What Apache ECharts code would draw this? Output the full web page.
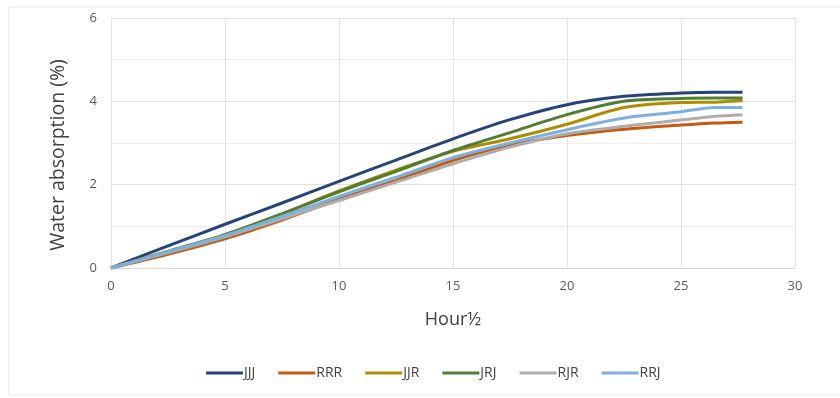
<!DOCTYPE html>
<html>
<head>
<meta charset="utf-8">
<script src="https://cdn.jsdelivr.net/npm/echarts@6/dist/echarts.min.js"></script>
<style>
  html, body { margin: 0; padding: 0; background: #fff; }
  #chart-container { width: 840px; height: 398px; }
</style>
</head>
<body>
<div id="chart-container"></div>
<script>
var hours = [0, 2.5, 5, 7.5, 10, 12.5, 15, 17.5, 20, 22.5, 25, 26.5, 27.7];
var seriesNames = ['JJJ', 'RRR', 'JJR', 'JRJ', 'RJR', 'RRJ'];
var JJJ = [0, 0.53, 1.05, 1.56, 2.08, 2.59, 3.1, 3.56, 3.92, 4.12, 4.2, 4.22, 4.22];
var RRR = [0, 0.33, 0.7, 1.15, 1.65, 2.1, 2.58, 2.95, 3.18, 3.33, 3.43, 3.48, 3.5];
var JJR = [0, 0.4, 0.8, 1.3, 1.85, 2.35, 2.8, 3.1, 3.45, 3.85, 3.97, 3.98, 4.02];
var JRJ = [0, 0.4, 0.8, 1.3, 1.83, 2.32, 2.82, 3.25, 3.68, 4.0, 4.07, 4.08, 4.08];
var RJR = [0, 0.37, 0.75, 1.18, 1.62, 2.06, 2.5, 2.9, 3.22, 3.4, 3.55, 3.64, 3.68];
var RRJ = [0, 0.39, 0.78, 1.24, 1.72, 2.18, 2.65, 3.0, 3.32, 3.6, 3.75, 3.85, 3.85];
var colors = ['#264478', '#C55A11', '#B08C00', '#507E32', '#ADADAD', '#7CB0E0'];

var values = [JJJ, RRR, JJR, JRJ, RJR, RRJ];

var myChart = echarts.init(document.getElementById('chart-container'));

var series = [];
seriesNames.forEach(function (name, i) {
    series.push({
        name: name,
        type: 'line',
        smooth: 0.3,
        showSymbol: false,
        data: hours.map(function (h, j) { return [h, values[i][j]]; }),
        lineStyle: { width: 3, color: colors[i] },
        itemStyle: { color: colors[i] }
    });
});

var option = {
    animation: false,
    backgroundColor: '#fff',
    textStyle: { fontFamily: 'Open Sans' },
    graphic: [{
        type: 'rect',
        shape: { x: 9, y: 7, width: 840, height: 388 },
        style: { fill: 'none', stroke: '#e6e6e6', lineWidth: 1 }
    }],
    grid: { left: 111, right: 45, top: 18, bottom: 130 },
    legend: {
        bottom: 13,
        left: 201,
        icon: 'rect',
        itemWidth: 37,
        itemHeight: 3,
        itemGap: 23,
        textStyle: { fontSize: 14, color: '#404040', padding: [0, 0, 0, -4], fontFamily: 'Liberation Sans Narrow, Open Sans' },
        data: seriesNames
    },
    xAxis: {
        type: 'value',
        min: 0,
        max: 30,
        interval: 5,
        name: 'Hour½',
        nameLocation: 'middle',
        nameGap: 43,
        nameTextStyle: { fontSize: 18, color: '#404040' },
        axisLine: { show: true, lineStyle: { color: '#d9d9d9' } },
        axisTick: { show: false },
        axisLabel: { fontSize: 13, color: '#595959', margin: 12 },
        splitLine: { show: true, lineStyle: { color: '#e3e3e3' } }
    },
    yAxis: {
        type: 'value',
        min: 0,
        max: 6,
        interval: 2,
        name: 'Water absorption (%)',
        nameLocation: 'middle',
        nameGap: 43,
        nameTextStyle: { fontSize: 19.5, color: '#404040', padding: [0, 24, 0, 0] },
        axisLine: { show: false },
        axisTick: { show: false },
        axisLabel: { fontSize: 13, color: '#595959', margin: 14 },
        splitLine: { show: true, lineStyle: { color: '#e0e0e0' } },
        minorTick: { show: false, splitNumber: 2 },
        minorSplitLine: { show: true, lineStyle: { color: '#eeeeee' } }
    },
    series: series
};

myChart.setOption(option);
</script>
</body>
</html>
